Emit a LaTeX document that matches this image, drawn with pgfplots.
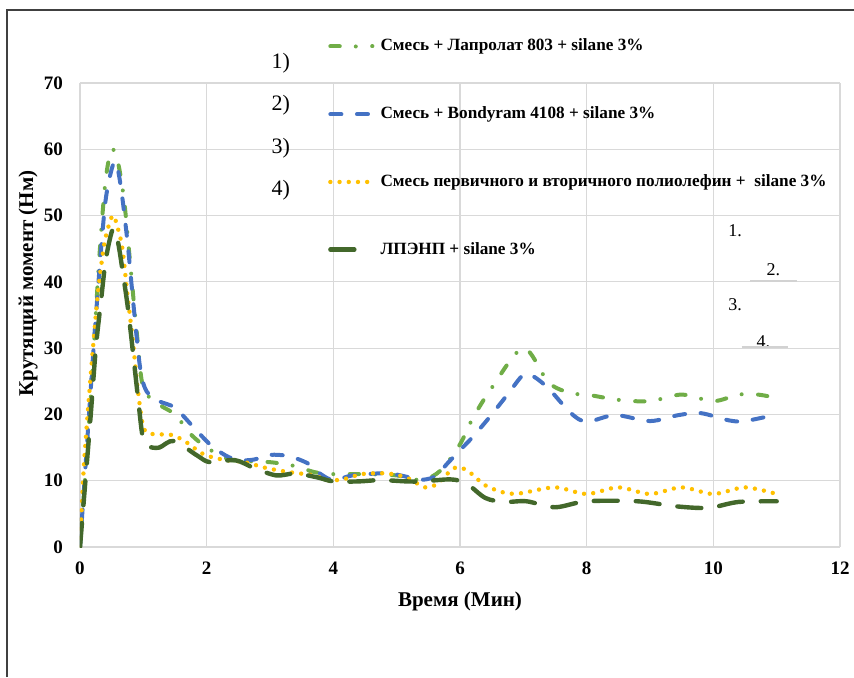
\documentclass[border=0pt]{standalone}
\usepackage{fontspec}
\setmainfont{Liberation Serif}
\usepackage{pgfplots}
\pgfplotsset{compat=1.18}

\definecolor{cLap}{RGB}{112,173,71}
\definecolor{cBond}{RGB}{68,114,196}
\definecolor{cMix}{RGB}{255,192,0}
\definecolor{cLp}{RGB}{67,104,43}
\definecolor{gridgray}{RGB}{217,217,217}

\begin{document}
\begin{tikzpicture}
\path[use as bounding box] (0,0) rectangle (427pt,338.5pt);
\draw[black!75, line width=0.7pt] (3.5pt,0pt) -- (3.5pt,333.5pt) -- (427pt,333.5pt);

\begin{axis}[at={(40pt,65pt)}, anchor=south west,
  scale only axis, width=380pt, height=232pt,
  xmin=0, xmax=12, ymin=0, ymax=70,
  xtick={0,2,...,12}, ytick={0,10,...,70},
  grid=major, major grid style={draw=gridgray, line width=0.6pt},
  axis line style={draw=none}, major tick length=0pt,
  /pgf/number format/assume math mode=true,
  ticklabel style={font=\bfseries\fontsize{9.5}{10}\selectfont},
  xticklabel style={yshift=-4pt},
  yticklabel style={xshift=-5pt},
  label style={font=\bfseries\fontsize{10.5}{12}\selectfont},
  xlabel={Время (Мин)}, ylabel={Крутящий момент (Нм)},
  xlabel style={at={(axis description cs:0.5,-0.118)}, anchor=center},
  ylabel style={at={(axis description cs:-0.0684,0.568)}, anchor=center},
  legend style={draw=none, fill=none, at={(axis description cs:0.326,1.1)},
    anchor=north west, font=\bfseries\fontsize{8.6}{10}\selectfont,
    row sep=24.4pt, inner sep=0pt, nodes={inner sep=1pt}},
  legend cell align=left,
  legend image code/.code={\draw[#1] (0pt,0pt) -- (21pt,0pt);},
  every axis plot/.append style={smooth, line cap=round, line join=round}]

\addplot[cLap, line width=2pt, dash pattern=on 4.7pt off 8pt on 0pt off 8.2pt] coordinates {
(0,0) (0.1,13) (0.2,27) (0.3,43) (0.4,55) (0.5,60) (0.6,58) (0.7,52) (0.8,42)
(0.9,32) (1.0,24) (1.25,21.5) (1.5,20) (1.75,17) (2,15) (2.3,13.4) (2.5,13)
(3,12.8) (3.4,12.2) (3.7,11.3) (4,11) (4.5,11) (5,10.8) (5.4,10.1) (5.7,11.6)
(6,15.5) (6.2,19.4) (6.5,24) (7,30) (7.4,24.8) (7.75,23.2) (8,23) (8.5,22.2)
(9,22) (9.5,23) (10,22) (10.4,23) (10.7,23) (11,22.5)};
\addlegendentry{\hspace{2pt}Смесь + Лапролат 803 + silane 3\%}

\addplot[cBond, line width=2pt, dash pattern=on 5.5pt off 7.8pt] coordinates {
(0,0) (0.1,14) (0.2,28) (0.3,41) (0.4,52) (0.5,57) (0.57,58) (0.65,54) (0.75,46)
(0.85,36) (0.95,27) (1.05,23.5) (1.25,22) (1.5,21) (1.8,18) (2.05,15.5) (2.3,13.8)
(2.5,13.1) (2.75,13.2) (3.0,13.9) (3.3,13.7) (3.6,12.6) (3.8,11) (4.0,10.1)
(4.3,10.8) (4.7,11.1) (4.9,11.1) (5.2,10.5) (5.35,10.1) (5.6,10.6) (5.8,12.6)
(6.0,14.6) (6.2,16.6) (6.45,19.4) (6.75,23) (7.0,26) (7.15,25.8) (7.4,23.9)
(7.75,20.2) (8.0,18.9) (8.45,19.9) (9.0,19) (9.45,19.9) (9.8,20.2) (10.25,19.1)
(10.5,19) (11,20)};
\addlegendentry{\hspace{2pt}Смесь + Bondyram 4108 + silane 3\%}

\addplot[cMix, line width=2.2pt, dash pattern=on 0pt off 4.6pt] coordinates {
(0,0) (0.06,12) (0.17,26) (0.28,38) (0.38,45.5) (0.47,49) (0.53,50) (0.6,48)
(0.67,45) (0.75,38) (0.83,31.5) (0.91,24) (0.99,18.5) (1.07,17.2) (1.25,17)
(1.45,16.9) (1.65,16) (1.95,14) (2.25,13.2) (2.6,12.8) (2.95,11.9) (3.3,11.3)
(3.7,10.8) (3.9,10.1) (4.15,10.2) (4.45,11) (4.85,11.1) (5.15,10.5) (5.45,9.0)
(5.65,9.6) (5.87,11.7) (6.0,12) (6.15,11.3) (6.4,9.3) (6.7,8.2) (6.95,8.1)
(7.5,9) (8.0,8) (8.5,9) (9.0,8) (9.5,9) (10,8) (10.5,9) (11,8)};
\addlegendentry{\hspace{2pt}Смесь первичного и вторичного полиолефин +\ \ silane 3\%}

\addplot[cLp, line width=2.2pt, dash pattern=on 12pt off 9pt] coordinates {
(0,0) (0.09,10.5) (0.17,20) (0.25,30) (0.33,37) (0.41,43.5) (0.52,48) (0.6,46)
(0.69,40.5) (0.77,35) (0.91,23) (0.99,16.6) (1.08,15.2) (1.25,15) (1.48,16)
(1.85,13.8) (2.05,12.8) (2.45,13.1) (2.75,11.9) (3.1,10.8) (3.4,11.1) (3.75,10.5)
(4.0,9.9) (4.4,9.9) (4.75,10.1) (5.15,9.9) (5.4,9.9) (5.85,10.2) (6.1,9.6)
(6.4,7.4) (6.7,6.8) (7.05,6.9) (7.5,6.0) (8.0,6.9) (8.8,6.9) (9.35,6.2)
(9.75,5.9) (10.0,6.0) (10.4,6.8) (11.0,6.9)};
\addlegendentry{\hspace{2pt}ЛПЭНП + silane 3\%}
\end{axis}

% numbered notes
\begin{scope}[every node/.style={font=\fontsize{11}{12}\selectfont, inner sep=0pt}]
\node at (140.4pt,306.9pt) {1)};
\node at (140.4pt,286pt) {2)};
\node at (140.4pt,264.4pt) {3)};
\node at (140.4pt,243.5pt) {4)};
\end{scope}
\begin{scope}[every node/.style={font=\fontsize{9}{10}\selectfont, inner sep=0pt}]
\node at (367.5pt,223pt) {1.};
\node at (386.7pt,203.5pt) {2.};
\node at (367.5pt,186pt) {3.};
\node at (381.7pt,167.7pt) {4.};
\end{scope}
\draw[gray!35, line width=0.6pt] (375pt,198pt) -- (398.3pt,198pt);
\draw[gray!35, line width=0.6pt] (370.8pt,165pt) -- (394.2pt,165pt);
\end{tikzpicture}
\end{document}
